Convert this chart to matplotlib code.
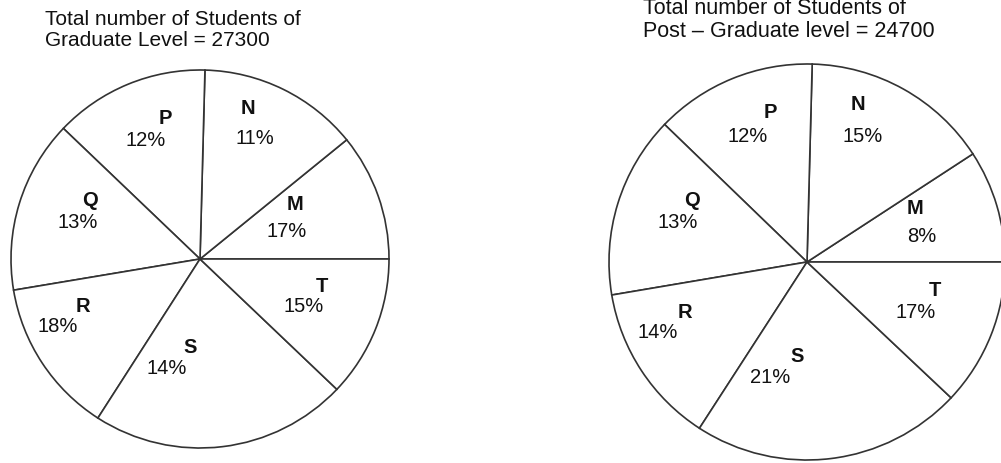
import matplotlib
matplotlib.use("Agg")
import matplotlib.pyplot as plt

plt.rcParams['font.family'] = ['Liberation Sans', 'DejaVu Sans']

# segments, counter-clockwise starting from 3 o'clock
segments = ['M', 'N', 'P', 'Q', 'R', 'S', 'T']

# percentages written on the charts
grad_pct = [17, 11, 12, 13, 18, 14, 15]
post_pct = [8, 15, 12, 13, 14, 21, 17]

# slice sizes as drawn in the picture (degrees, schematic)
grad_drawn = [39.1, 49.4, 47.8, 53.2, 47.8, 79.1, 43.6]
post_drawn = [33.1, 55.4, 47.5, 53.6, 47.5, 79.6, 43.3]

grad_title = "Total number of Students of\nGraduate Level = 27300"
post_title = "Total number of Students of\nPost \u2013 Graduate level = 24700"

W, H = 1001, 464
fig = plt.figure(figsize=(W / 100, H / 100), dpi=100)
ax = fig.add_axes([0, 0, 1, 1])


def px(x, y):
    # pixel position (y down) -> data coords
    return x, H - y


def draw_pie(drawn, pct, center, radius, letter_pos, pct_pos):
    ax.pie(drawn, center=px(*center), radius=radius, startangle=0,
           counterclock=True,
           wedgeprops=dict(facecolor='white', edgecolor='#333333', linewidth=1.2))
    for seg, p, lp, pp in zip(segments, pct, letter_pos, pct_pos):
        ax.text(*px(*lp), seg, ha='center', va='center', fontsize=14.5,
                fontweight='bold', color='#111111')
        ax.text(*px(*pp), f"{p}%", ha='center', va='center', fontsize=14.5,
                color='#111111')


# label positions in pixels (M..T)
grad_letters = [(295, 204), (248, 109), (165, 118), (90, 200), (83, 307), (190, 348), (322, 286)]
grad_pcts = [(287, 232), (255, 139), (146, 140), (78, 223), (58, 326), (167, 369), (304, 307)]
post_letters = [(915, 209), (858, 105), (770, 113), (692, 200), (685, 313), (797, 357), (935, 290)]
post_pcts = [(922, 237), (863, 137), (748, 137), (678, 223), (658, 333), (770, 378), (916, 312)]

draw_pie(grad_drawn, grad_pct, (200, 260), 189, grad_letters, grad_pcts)
draw_pie(post_drawn, post_pct, (807, 263), 198, post_letters, post_pcts)

ax.text(*px(45, 30), grad_title, ha='left', va='center', fontsize=15,
        color='#111111', linespacing=1.12)
ax.text(*px(643, 20), post_title, ha='left', va='center', fontsize=15.5,
        color='#111111', linespacing=1.08)

ax.set_xlim(0, W)
ax.set_ylim(0, H)
ax.set_aspect('equal')
ax.axis('off')

fig.savefig("out.png", dpi=100, facecolor='white')
